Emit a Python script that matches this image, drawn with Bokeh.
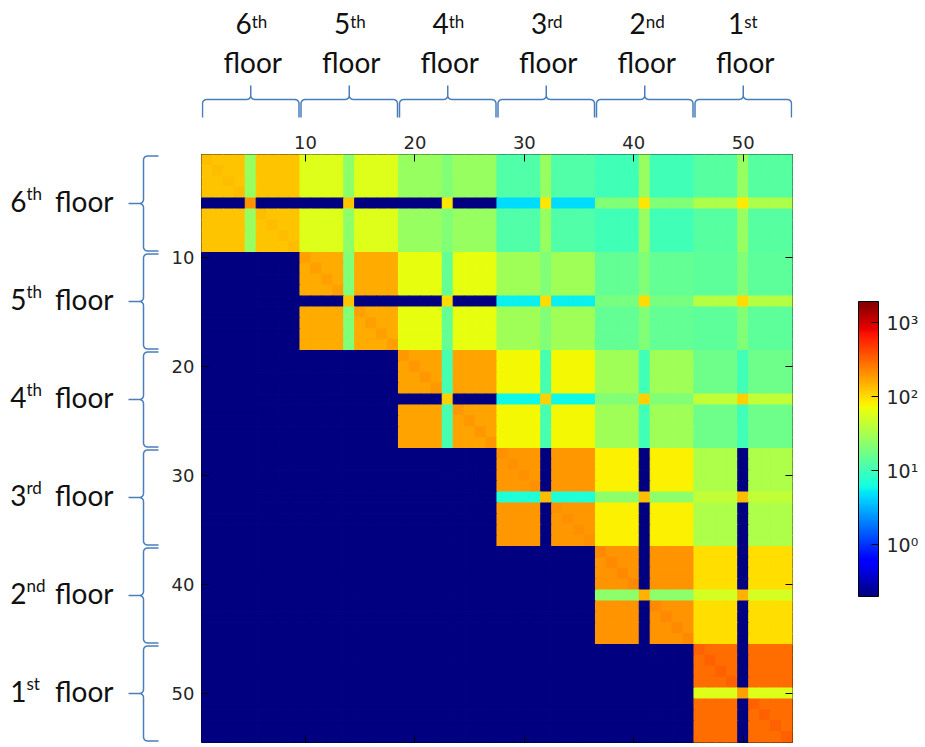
import numpy as np
from bokeh.plotting import figure
from bokeh.layouts import column, row
from bokeh.models import (ColumnDataSource, LogColorMapper, ColorBar, FixedTicker,
                          LinearAxis, Range1d, Spacer)
from bokeh.transform import transform
from bokeh.core.properties import value
from bokeh.embed import file_html
from bokeh.resources import INLINE

# ---------------- data ----------------
FLOOR_NUMBERS = ["6", "5", "4", "3", "2", "1"]
FLOOR_SUFFIXES = ["th", "th", "th", "rd", "nd", "st"]
NODES_PER_FLOOR = 9
SPECIAL_NODE = 4          # 5th node of every floor
AXIS_TICKS = [10, 20, 30, 40, 50]
CBAR_TICKS = [1, 10, 100, 1000]
CBAR_LABELS = ["10\u2070", "10\u00b9", "10\u00b2", "10\u00b3"]
VMIN, VMAX = 0.2, 1950

# block values (row block = floor of row node, col block = floor of column node)
BLOCK_REGULAR = [
    [124, 59, 27, 12, 10, 13],
    [0, 160, 66, 30, 15, 14],
    [0, 0, 173, 75, 30, 17],
    [0, 0, 0, 190, 82, 35],
    [0, 0, 0, 0, 198, 96],
    [0, 0, 0, 0, 0, 295],
]
BLOCK_SPECIAL_COL = [
    [27, 24, 21, 27, 27, 27],
    [0, 21, 15, 21, 21, 21],
    [0, 0, 11, 11, 10, 10],
    [0, 0, 0, 0, 0, 0],
    [0, 0, 0, 0, 0, 0],
    [0, 0, 0, 0, 0, 0],
]
BLOCK_SPECIAL_ROW = [
    [0, 0, 0, 4.7, 21, 34],
    [0, 0, 0, 5.5, 19, 37],
    [0, 0, 0, 6, 21, 42],
    [0, 0, 0, 7, 24, 42],
    [0, 0, 0, 0, 24, 53],
    [0, 0, 0, 0, 0, 59],
]
BLOCK_CROSS = [
    [198, 124, 91, 91, 91, 87],
    [0, 124, 101, 101, 101, 101],
    [0, 0, 112, 112, 112, 112],
    [0, 0, 0, 135, 135, 135],
    [0, 0, 0, 0, 149, 149],
    [0, 0, 0, 0, 0, 182],
]
DIAGONAL = [135, 180, 192, 210, 220, 330]

# ---------------- matrix ----------------
NF = len(FLOOR_NUMBERS)
N = NF * NODES_PER_FLOOR
xs_c, ys_c, vs_c = [], [], []
for i in range(N):
    bi, si = divmod(i, NODES_PER_FLOOR)
    for j in range(N):
        bj, sj = divmod(j, NODES_PER_FLOOR)
        if bi > bj:
            v = 0.0
        elif si == SPECIAL_NODE and sj == SPECIAL_NODE:
            v = BLOCK_CROSS[bi][bj]
        elif si == SPECIAL_NODE:
            v = BLOCK_SPECIAL_ROW[bi][bj]
        elif sj == SPECIAL_NODE:
            v = BLOCK_SPECIAL_COL[bi][bj]
        elif i == j:
            v = DIAGONAL[bi]
        else:
            v = BLOCK_REGULAR[bi][bj]
        xs_c.append(j + 1)
        ys_c.append(i + 1)
        vs_c.append(float(v))
src = ColumnDataSource(dict(x=xs_c, y=ys_c, v=vs_c))


def jet_palette(n=256):
    t = np.linspace(0, 1, n)
    r = np.interp(t, [0, 0.35, 0.66, 0.89, 1], [0, 0, 1, 1, 0.5])
    g = np.interp(t, [0, 0.125, 0.375, 0.64, 0.91, 1], [0, 0, 1, 1, 0, 0])
    b = np.interp(t, [0, 0.11, 0.34, 0.65, 1], [0.5, 1, 1, 0, 0])
    return ["#%02x%02x%02x" % (int(round(255 * a)), int(round(255 * c)), int(round(255 * d)))
            for a, c, d in zip(r, g, b)]


JET = jet_palette()
mapper = LogColorMapper(palette=JET, low=VMIN, high=VMAX, nan_color=JET[0])

# ---------------- layout sizes ----------------
WL, BL, FW, BR = 161, 40, 591, 133
HT, BT, BB, HP = 120, 34, 5, 627
WP = BL + FW + BR
FH = HP - BT - BB
ppx = FW / N
ppy = FH / N

TICK_FONT = "DejaVu Sans"
LABEL_FONT = "Lato"
BIG = 28            # px, floor label font
SMALL = 17          # px, ordinal suffix font
BIG_SHIFT = 10.5    # baseline compensation (px)
SMALL_SHIFT = 6.5
BRACE_COLOR = "#4a7ebb"
TEXT_COLOR = "#111111"

# ---------------- main heatmap ----------------
P = figure(width=WP, height=HP, x_range=Range1d(0.5, N + 0.5), y_range=Range1d(N + 0.5, 0.5),
           x_axis_location="above", y_axis_location="left",
           min_border_left=BL, min_border_right=BR, min_border_top=BT, min_border_bottom=BB,
           toolbar_location=None, tools="", output_backend="svg")
P.rect(x="x", y="y", width=1, height=1, source=src,
       fill_color=transform("v", mapper), line_color=transform("v", mapper), line_width=1.1)
P.grid.visible = False
P.outline_line_color = "black"
P.outline_line_width = 1
P.background_fill_color = "white"
P.border_fill_color = "white"

for ax in [P.xaxis[0], P.yaxis[0]]:
    ax.ticker = FixedTicker(ticks=AXIS_TICKS)
    ax.major_tick_in = 7
    ax.major_tick_out = 0
    ax.minor_tick_line_color = None
    ax.axis_line_color = None
    ax.major_tick_line_color = "black"
    ax.major_label_text_font = TICK_FONT
    ax.major_label_text_font_size = "18px"
    ax.major_label_text_color = "#262626"
P.xaxis[0].major_label_standoff = 6
P.yaxis[0].major_label_standoff = 7

for side in ["right", "below"]:
    ax = LinearAxis(ticker=FixedTicker(ticks=AXIS_TICKS), major_tick_in=7, major_tick_out=0,
                    minor_tick_line_color=None, axis_line_color=None,
                    major_tick_line_color="black", major_label_text_font_size="1px",
                    major_label_overrides={t: "" for t in AXIS_TICKS},
                    major_label_standoff=0)
    P.add_layout(ax, side)

cb = ColorBar(color_mapper=mapper, ticker=FixedTicker(ticks=CBAR_TICKS),
              major_label_overrides={t: l for t, l in zip(CBAR_TICKS, CBAR_LABELS)},
              orientation="vertical", width=20, height=295,
              location=(657, int((FH - 295) / 2)), padding=0, margin=0,
              bar_line_color="black", bar_line_width=1,
              major_tick_line_color="black", major_tick_in=7, major_tick_out=0,
              minor_tick_line_color=None, label_standoff=8,
              major_label_text_font=TICK_FONT, major_label_text_font_size="19px",
              major_label_text_color="#262626",
              border_line_color=None, background_fill_color=None)
P.add_layout(cb)


# ---------------- braces ----------------
def brace_path(length, d1, d2, r, n=7):
    pts = [(0.0, 0.0)]

    def arc(cx, cy, a0, a1):
        for a in np.linspace(a0, a1, n):
            pts.append((cx + r * np.cos(a), cy + r * np.sin(a)))

    m = length / 2.0
    arc(r, d1 - r, np.pi, np.pi / 2)
    arc(m - r, d1 + r, -np.pi / 2, 0)
    pts.append((m, d1 + d2))
    arc(m + r, d1 + r, np.pi, 3 * np.pi / 2)
    arc(length - r, d1 - r, np.pi / 2, 0)
    pts.append((length, 0.0))
    return pts


# top panel (shares x range with heatmap, y in pixels from top)
T = figure(width=WP, height=HT, x_range=P.x_range, y_range=Range1d(HT, 0),
           min_border_left=BL, min_border_right=BR, min_border_top=0, min_border_bottom=0,
           x_axis_location=None, y_axis_location=None,
           toolbar_location=None, tools="", output_backend="svg")
T.grid.visible = False
T.outline_line_color = None

# left panel (shares y range with heatmap, x in pixels)
L = figure(width=WL, height=HP, x_range=Range1d(0, WL), y_range=P.y_range,
           min_border_left=0, min_border_right=0, min_border_top=BT, min_border_bottom=BB,
           x_axis_location=None, y_axis_location=None,
           toolbar_location=None, tools="", output_backend="svg")
L.grid.visible = False
L.outline_line_color = None

top_xs, top_ys, left_xs, left_ys = [], [], [], []
inset_x, inset_y = 1.0, 1.5
for b in range(NF):
    lo = b * NODES_PER_FLOOR + 0.5
    pts = brace_path(NODES_PER_FLOOR * ppx - 2 * inset_x, 18, 14, 4)
    top_xs.append([lo + (inset_x + s) / ppx for s, d in pts])
    top_ys.append([117 - d for s, d in pts])
    pts = brace_path(NODES_PER_FLOOR * ppy - 2 * inset_y, 15, 15, 4)
    left_ys.append([lo + (inset_y + s) / ppy for s, d in pts])
    left_xs.append([158 - d for s, d in pts])

T.multi_line(top_xs, top_ys, line_color=BRACE_COLOR, line_width=1.5)
L.multi_line(left_xs, left_ys, line_color=BRACE_COLOR, line_width=1.5)

centers = [b * NODES_PER_FLOOR + (NODES_PER_FLOOR + 1) / 2 for b in range(NF)]

# top labels
T.text(x=centers, y=[33 - BIG_SHIFT] * NF, text=FLOOR_NUMBERS, text_align="right",
       text_baseline="alphabetic", x_offset=1,
       text_font=value(LABEL_FONT), text_font_size=f"{BIG}px", text_color=TEXT_COLOR)
T.text(x=centers, y=[27 - SMALL_SHIFT] * NF, text=FLOOR_SUFFIXES, text_align="left",
       text_baseline="alphabetic", x_offset=1,
       text_font=value(LABEL_FONT), text_font_size=f"{SMALL}px", text_color=TEXT_COLOR)
T.text(x=centers, y=[72 - BIG_SHIFT] * NF, text=["floor"] * NF, text_align="center",
       text_baseline="alphabetic", x_offset=2,
       text_font=value(LABEL_FONT), text_font_size=f"{BIG}px", text_color=TEXT_COLOR)

# left labels
L.text(x=[26] * NF, y=[c + (8.4 - BIG_SHIFT) / ppy for c in centers], text=FLOOR_NUMBERS,
       text_align="right", text_baseline="alphabetic",
       text_font=value(LABEL_FONT), text_font_size=f"{BIG}px", text_color=TEXT_COLOR)
L.text(x=[26] * NF, y=[c + (-3.6 - SMALL_SHIFT) / ppy for c in centers], text=FLOOR_SUFFIXES,
       text_align="left", text_baseline="alphabetic",
       text_font=value(LABEL_FONT), text_font_size=f"{SMALL}px", text_color=TEXT_COLOR)
L.text(x=[113] * NF, y=[c + (8.4 - BIG_SHIFT) / ppy for c in centers], text=["floor"] * NF,
       text_align="right", text_baseline="alphabetic",
       text_font=value(LABEL_FONT), text_font_size=f"{BIG}px", text_color=TEXT_COLOR)

layout = column(row(Spacer(width=WL, height=HT), T), row(L, P))

open("out.html", "w").write(file_html(layout, INLINE))
